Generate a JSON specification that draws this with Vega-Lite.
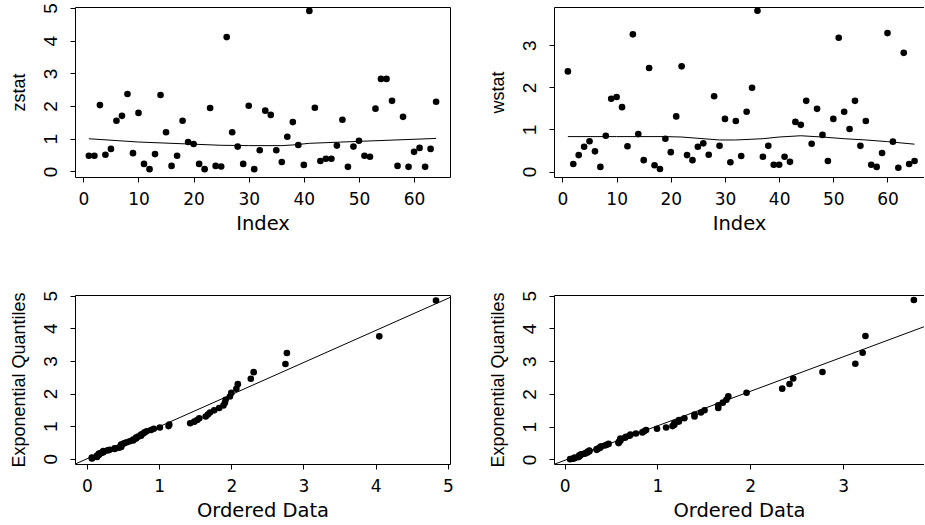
{
  "$schema": "https://vega.github.io/schema/vega-lite/v6.json",
  "background": "white",
  "padding": {"left": 10, "top": 2, "right": 0, "bottom": 0},
  "bounds": "flush",
  "columns": 2,
  "spacing": {"row": 118, "column": 104},
  "config": {
    "view": {"stroke": null},
    "axis": {"grid": false, "domainColor": "black", "tickColor": "black", "labelColor": "black", "titleColor": "black", "titleFontWeight": "normal", "tickSize": 5, "domainWidth": 1, "tickWidth": 1, "labelFlush": false, "labelOverlap": false, "labelBound": false},
    "axisBottom": {"labelFont": "DejaVu Sans", "labelFontSize": 17, "labelPadding": 9, "labelBaseline": "top", "titleFont": "DejaVu Sans", "titleFontSize": 19.5, "titleBaseline": "alphabetic", "titleY": 52},
    "axisLeft": {"labelFont": "Liberation Sans", "labelFontSize": 19, "labelAngle": 270, "labelAlign": "center", "labelBaseline": "alphabetic", "labelPadding": 14, "titleFont": "Liberation Sans", "titleFontSize": 18, "titleAngle": 270, "titleBaseline": "alphabetic", "titleX": -51}
  },
  "concat": [
        {
          "width": 375, "height": 170,
          "resolve": {"axis": {"x": "independent", "y": "independent"}},
          "layer": [
            {
              "data": {"values": [
                {"i":1,"zstat":0.48},{"i":2,"zstat":0.48},{"i":3,"zstat":2.03},{"i":4,"zstat":0.51},{"i":5,"zstat":0.69},{"i":6,"zstat":1.55},{"i":7,"zstat":1.70},{"i":8,"zstat":2.37},{"i":9,"zstat":0.56},{"i":10,"zstat":1.79},
                {"i":11,"zstat":0.23},{"i":12,"zstat":0.07},{"i":13,"zstat":0.53},{"i":14,"zstat":2.34},{"i":15,"zstat":1.20},{"i":16,"zstat":0.17},{"i":17,"zstat":0.48},{"i":18,"zstat":1.55},{"i":19,"zstat":0.90},{"i":20,"zstat":0.84},
                {"i":21,"zstat":0.23},{"i":22,"zstat":0.07},{"i":23,"zstat":1.94},{"i":24,"zstat":0.17},{"i":25,"zstat":0.15},{"i":26,"zstat":4.11},{"i":27,"zstat":1.20},{"i":28,"zstat":0.76},{"i":29,"zstat":0.23},{"i":30,"zstat":2.01},
                {"i":31,"zstat":0.07},{"i":32,"zstat":0.65},{"i":33,"zstat":1.86},{"i":34,"zstat":1.73},{"i":35,"zstat":0.65},{"i":36,"zstat":0.29},{"i":37,"zstat":1.06},{"i":38,"zstat":1.51},{"i":39,"zstat":0.81},{"i":40,"zstat":0.20},
                {"i":41,"zstat":4.91},{"i":42,"zstat":1.95},{"i":43,"zstat":0.32},{"i":44,"zstat":0.39},{"i":45,"zstat":0.39},{"i":46,"zstat":0.79},{"i":47,"zstat":1.58},{"i":48,"zstat":0.14},{"i":49,"zstat":0.76},{"i":50,"zstat":0.94},
                {"i":51,"zstat":0.48},{"i":52,"zstat":0.45},{"i":53,"zstat":1.92},{"i":54,"zstat":2.83},{"i":55,"zstat":2.83},{"i":56,"zstat":2.16},{"i":57,"zstat":0.17},{"i":58,"zstat":1.67},{"i":59,"zstat":0.14},{"i":60,"zstat":0.60},
                {"i":61,"zstat":0.72},{"i":62,"zstat":0.14},{"i":63,"zstat":0.69},{"i":64,"zstat":2.13}
              ]},
              "mark": {"type": "circle", "color": "black", "opacity": 1, "size": 44},
              "encoding": {
                "x": {"field": "i", "type": "quantitative", "scale": {"domain": [-1.52, 66.52], "nice": false, "zero": false}, "axis": {"orient": "bottom", "title": "Index", "values": [0,10,20,30,40,50,60]}},
                "y": {"field": "zstat", "type": "quantitative", "scale": {"domain": [-0.17, 5.03], "nice": false, "zero": false}, "axis": {"orient": "left", "title": "zstat", "values": [0,1,2,3,4,5]}}
              }
            },
            {
              "data": {"values": [
                {"i":1,"fit":1.00},{"i":10,"fit":0.90},{"i":19,"fit":0.84},{"i":25,"fit":0.80},{"i":30,"fit":0.79},{"i":36,"fit":0.79},{"i":38,"fit":0.81},{"i":41,"fit":0.86},{"i":50,"fit":0.92},{"i":64,"fit":1.01}
              ]},
              "mark": {"type": "line", "color": "black", "strokeWidth": 1, "clip": true},
              "encoding": {
                "x": {"field": "i", "type": "quantitative", "scale": {"domain": [-1.52, 66.52], "nice": false, "zero": false}, "axis": {"orient": "top", "labels": false, "ticks": false, "title": null}},
                "y": {"field": "fit", "type": "quantitative", "scale": {"domain": [-0.17, 5.03], "nice": false, "zero": false}, "axis": {"orient": "right", "labels": false, "ticks": false, "title": null}}
              }
            }
          ]
        },
        {
          "width": 370, "height": 170,
          "resolve": {"axis": {"x": "independent", "y": "independent"}},
          "layer": [
            {
              "data": {"values": [
                {"i":1,"wstat":2.38},{"i":2,"wstat":0.18},{"i":3,"wstat":0.39},{"i":4,"wstat":0.59},{"i":5,"wstat":0.72},{"i":6,"wstat":0.48},{"i":7,"wstat":0.11},{"i":8,"wstat":0.85},{"i":9,"wstat":1.73},{"i":10,"wstat":1.77},
                {"i":11,"wstat":1.53},{"i":12,"wstat":0.60},{"i":13,"wstat":3.26},{"i":14,"wstat":0.89},{"i":15,"wstat":0.27},{"i":16,"wstat":2.46},{"i":17,"wstat":0.15},{"i":18,"wstat":0.06},{"i":19,"wstat":0.78},{"i":20,"wstat":0.46},
                {"i":21,"wstat":1.31},{"i":22,"wstat":2.50},{"i":23,"wstat":0.39},{"i":24,"wstat":0.27},{"i":25,"wstat":0.59},{"i":26,"wstat":0.67},{"i":27,"wstat":0.40},{"i":28,"wstat":1.79},{"i":29,"wstat":0.61},{"i":30,"wstat":1.25},
                {"i":31,"wstat":0.22},{"i":32,"wstat":1.20},{"i":33,"wstat":0.37},{"i":34,"wstat":1.42},{"i":35,"wstat":1.99},{"i":36,"wstat":3.82},{"i":37,"wstat":0.35},{"i":38,"wstat":0.61},{"i":39,"wstat":0.16},{"i":40,"wstat":0.16},
                {"i":41,"wstat":0.35},{"i":42,"wstat":0.23},{"i":43,"wstat":1.18},{"i":44,"wstat":1.11},{"i":45,"wstat":1.68},{"i":46,"wstat":0.66},{"i":47,"wstat":1.49},{"i":48,"wstat":0.87},{"i":49,"wstat":0.25},{"i":50,"wstat":1.25},
                {"i":51,"wstat":3.18},{"i":52,"wstat":1.42},{"i":53,"wstat":1.01},{"i":54,"wstat":1.68},{"i":55,"wstat":0.61},{"i":56,"wstat":1.20},{"i":57,"wstat":0.16},{"i":58,"wstat":0.11},{"i":59,"wstat":0.44},{"i":60,"wstat":3.29},
                {"i":61,"wstat":0.71},{"i":62,"wstat":0.09},{"i":63,"wstat":2.82},{"i":64,"wstat":0.18},{"i":65,"wstat":0.25}
              ]},
              "mark": {"type": "circle", "color": "black", "opacity": 1, "size": 44},
              "encoding": {
                "x": {"field": "i", "type": "quantitative", "scale": {"domain": [-1.56, 66.74], "nice": false, "zero": false}, "axis": {"orient": "bottom", "title": "Index", "values": [0,10,20,30,40,50,60]}},
                "y": {"field": "wstat", "type": "quantitative", "scale": {"domain": [-0.13, 3.91], "nice": false, "zero": false}, "axis": {"orient": "left", "title": "wstat", "values": [0,1,2,3]}}
              }
            },
            {
              "data": {"values": [
                {"i":1,"fit":0.83},{"i":10,"fit":0.83},{"i":19,"fit":0.83},{"i":22,"fit":0.82},{"i":25,"fit":0.79},{"i":29,"fit":0.75},{"i":32,"fit":0.75},{"i":37,"fit":0.78},{"i":40,"fit":0.82},{"i":44,"fit":0.85},{"i":48,"fit":0.82},{"i":52,"fit":0.78},{"i":56,"fit":0.75},{"i":60,"fit":0.71},{"i":65,"fit":0.65}
              ]},
              "mark": {"type": "line", "color": "black", "strokeWidth": 1, "clip": true},
              "encoding": {
                "x": {"field": "i", "type": "quantitative", "scale": {"domain": [-1.56, 66.74], "nice": false, "zero": false}, "axis": {"orient": "top", "labels": false, "ticks": false, "title": null}},
                "y": {"field": "fit", "type": "quantitative", "scale": {"domain": [-0.13, 3.91], "nice": false, "zero": false}, "axis": null}
              }
            }
          ]
        },
        {
          "width": 375, "height": 169,
          "resolve": {"axis": {"x": "independent", "y": "independent"}},
          "layer": [
            {
              "data": {"values": [
                {"x":0.069,"q":0.0079},{"x":0.069,"q":0.0237},{"x":0.069,"q":0.0399},{"x":0.138,"q":0.0563},{"x":0.138,"q":0.0729},{"x":0.138,"q":0.0899},{"x":0.148,"q":0.1071},{"x":0.167,"q":0.1247},{"x":0.167,"q":0.1425},{"x":0.167,"q":0.1607},
                {"x":0.197,"q":0.1792},{"x":0.227,"q":0.1981},{"x":0.227,"q":0.2173},{"x":0.227,"q":0.2369},{"x":0.286,"q":0.2569},{"x":0.315,"q":0.2773},{"x":0.384,"q":0.2982},{"x":0.384,"q":0.3194},{"x":0.443,"q":0.3412},{"x":0.473,"q":0.3634},
                {"x":0.473,"q":0.3861},{"x":0.473,"q":0.4094},{"x":0.473,"q":0.4332},{"x":0.502,"q":0.4576},{"x":0.522,"q":0.4826},{"x":0.552,"q":0.5082},{"x":0.591,"q":0.5346},{"x":0.640,"q":0.5616},{"x":0.640,"q":0.5894},{"x":0.680,"q":0.6179},
                {"x":0.680,"q":0.6474},{"x":0.709,"q":0.6777},{"x":0.749,"q":0.7089},{"x":0.749,"q":0.7412},{"x":0.778,"q":0.7745},{"x":0.798,"q":0.8090},{"x":0.827,"q":0.8447},{"x":0.887,"q":0.8818},{"x":0.926,"q":0.9202},{"x":1.010,"q":0.9602},
                {"x":1.130,"q":1.0019},{"x":1.140,"q":1.0454},{"x":1.430,"q":1.0908},{"x":1.487,"q":1.1385},{"x":1.527,"q":1.1885},{"x":1.556,"q":1.2411},{"x":1.645,"q":1.2967},{"x":1.675,"q":1.3555},{"x":1.704,"q":1.4181},{"x":1.763,"q":1.4848},
                {"x":1.832,"q":1.5562},{"x":1.891,"q":1.6332},{"x":1.911,"q":1.7166},{"x":1.921,"q":1.8075},{"x":1.980,"q":1.9076},{"x":2.000,"q":2.0188},{"x":2.070,"q":2.1440},{"x":2.090,"q":2.2871},{"x":2.270,"q":2.4542},{"x":2.310,"q":2.6548},
                {"x":2.750,"q":2.9061},{"x":2.770,"q":3.2426},{"x":4.050,"q":3.7534},{"x":4.836,"q":4.8520}
              ]},
              "mark": {"type": "circle", "color": "black", "opacity": 1, "size": 44},
              "encoding": {
                "x": {"field": "x", "type": "quantitative", "scale": {"domain": [-0.166, 5.03], "nice": false, "zero": false}, "axis": {"orient": "bottom", "title": "Ordered Data", "values": [0,1,2,3,4,5]}},
                "y": {"field": "q", "type": "quantitative", "scale": {"domain": [-0.16, 5.02], "nice": false, "zero": false}, "axis": {"orient": "left", "title": "Exponential Quantiles", "values": [0,1,2,3,4,5]}}
              }
            },
            {
              "data": {"values": [{"x":-0.2,"q":-0.197},{"x":5.1,"q":5.013}]},
              "mark": {"type": "line", "color": "black", "strokeWidth": 1, "clip": true},
              "encoding": {
                "x": {"field": "x", "type": "quantitative", "scale": {"domain": [-0.166, 5.03], "nice": false, "zero": false}, "axis": {"orient": "top", "labels": false, "ticks": false, "title": null}},
                "y": {"field": "q", "type": "quantitative", "scale": {"domain": [-0.16, 5.02], "nice": false, "zero": false}, "axis": {"orient": "right", "labels": false, "ticks": false, "title": null}}
              }
            }
          ]
        },
        {
          "width": 370, "height": 169,
          "resolve": {"axis": {"x": "independent", "y": "independent"}},
          "layer": [
            {
              "data": {"values": [
                {"x":0.059,"q":0.0077},{"x":0.089,"q":0.0234},{"x":0.108,"q":0.0392},{"x":0.108,"q":0.0554},{"x":0.148,"q":0.0718},{"x":0.158,"q":0.0884},{"x":0.158,"q":0.1054},{"x":0.158,"q":0.1226},{"x":0.177,"q":0.1402},{"x":0.177,"q":0.1580},
                {"x":0.217,"q":0.1762},{"x":0.227,"q":0.1947},{"x":0.246,"q":0.2136},{"x":0.246,"q":0.2328},{"x":0.266,"q":0.2524},{"x":0.266,"q":0.2724},{"x":0.345,"q":0.2928},{"x":0.345,"q":0.3137},{"x":0.364,"q":0.3349},{"x":0.384,"q":0.3567},
                {"x":0.384,"q":0.3789},{"x":0.394,"q":0.4016},{"x":0.433,"q":0.4249},{"x":0.453,"q":0.4487},{"x":0.473,"q":0.4731},{"x":0.581,"q":0.4981},{"x":0.581,"q":0.5237},{"x":0.591,"q":0.5501},{"x":0.601,"q":0.5771},{"x":0.601,"q":0.6049},
                {"x":0.601,"q":0.6334},{"x":0.650,"q":0.6629},{"x":0.660,"q":0.6932},{"x":0.699,"q":0.7244},{"x":0.709,"q":0.7567},{"x":0.768,"q":0.7900},{"x":0.837,"q":0.8245},{"x":0.857,"q":0.8602},{"x":0.877,"q":0.8973},{"x":0.995,"q":0.9357},
                {"x":1.093,"q":0.9757},{"x":1.162,"q":1.0174},{"x":1.182,"q":1.0609},{"x":1.182,"q":1.1063},{"x":1.231,"q":1.1540},{"x":1.231,"q":1.2040},{"x":1.290,"q":1.2566},{"x":1.399,"q":1.3122},{"x":1.399,"q":1.3710},{"x":1.468,"q":1.4336},
                {"x":1.507,"q":1.5003},{"x":1.655,"q":1.5717},{"x":1.655,"q":1.6487},{"x":1.704,"q":1.7321},{"x":1.743,"q":1.8230},{"x":1.763,"q":1.9231},{"x":1.960,"q":2.0343},{"x":2.344,"q":2.1595},{"x":2.423,"q":2.3026},{"x":2.463,"q":2.4697},
                {"x":2.778,"q":2.6703},{"x":3.132,"q":2.9216},{"x":3.211,"q":3.2581},{"x":3.241,"q":3.7689},{"x":3.763,"q":4.8675}
              ]},
              "mark": {"type": "circle", "color": "black", "opacity": 1, "size": 44},
              "encoding": {
                "x": {"field": "x", "type": "quantitative", "scale": {"domain": [-0.115, 3.872], "nice": false, "zero": false}, "axis": {"orient": "bottom", "title": "Ordered Data", "values": [0,1,2,3]}},
                "y": {"field": "q", "type": "quantitative", "scale": {"domain": [-0.14, 5.02], "nice": false, "zero": false}, "axis": {"orient": "left", "title": "Exponential Quantiles", "values": [0,1,2,3,4,5]}}
              }
            },
            {
              "data": {"values": [{"x":-0.2,"q":-0.24},{"x":3.9,"q":4.08}]},
              "mark": {"type": "line", "color": "black", "strokeWidth": 1, "clip": true},
              "encoding": {
                "x": {"field": "x", "type": "quantitative", "scale": {"domain": [-0.115, 3.872], "nice": false, "zero": false}, "axis": {"orient": "top", "labels": false, "ticks": false, "title": null}},
                "y": {"field": "q", "type": "quantitative", "scale": {"domain": [-0.14, 5.02], "nice": false, "zero": false}, "axis": null}
              }
            }
          ]
        }
  ]
}
